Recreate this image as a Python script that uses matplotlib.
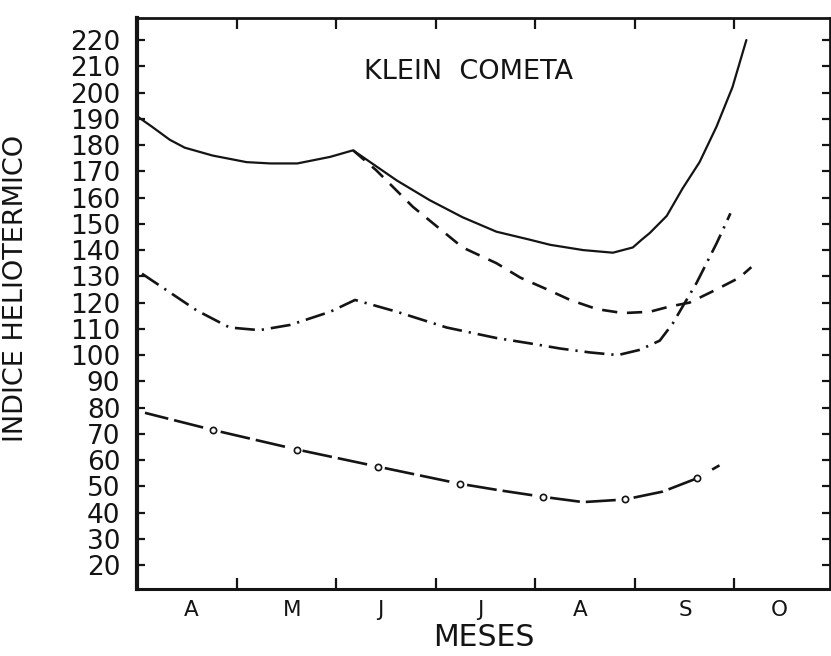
import matplotlib
matplotlib.use("Agg")
import matplotlib.pyplot as plt
from matplotlib.ticker import FixedLocator, NullFormatter

plt.rcParams['font.family'] = ['DejaVu Sans']
plt.rcParams['lines.scale_dashes'] = False

# months (x in month units from start of April), values of the heliothermic index
months = ['A', 'M', 'J', 'J', 'A', 'S', 'O']
yticks = [20, 30, 40, 50, 60, 70, 80, 90, 100, 110, 120, 130, 140, 150,
          160, 170, 180, 190, 200, 210, 220]

solid_x = [0.0, 0.15, 0.33, 0.48, 0.76, 1.10, 1.34, 1.61, 1.94, 2.17, 2.61, 2.94, 3.27, 3.61,
           3.94, 4.15, 4.48, 4.78, 4.98, 5.07, 5.15, 5.32, 5.48, 5.65, 5.82, 5.98, 6.12]
solid_y = [191, 187, 182, 179, 176, 173.5, 173, 173, 175.5, 178, 166.5, 159, 152.5, 147,
           144, 142, 140, 139, 141, 144, 146.5, 153, 163.5, 173.5, 187, 202, 220]

dashed_x = [2.17, 2.40, 2.77, 3.27, 3.61, 3.85, 4.12, 4.35, 4.62, 4.88, 5.15,
            5.35, 5.55, 5.82, 6.05, 6.17]
dashed_y = [178, 170.5, 156.5, 141, 135, 129.5, 125, 121, 117.5, 116, 116.5,
            118.5, 120, 125, 129.5, 133.5]

dashdot_x = [0.05, 0.60, 0.93, 1.23, 1.54, 1.94, 2.19, 2.61, 3.11, 3.61, 3.94, 4.25,
             4.55, 4.83, 5.05, 5.25, 5.38, 5.48, 5.62, 5.72, 5.82, 5.90, 5.96]
dashdot_y = [131, 117, 110.5, 109.5, 111.5, 116.5, 121, 116.5, 110.5, 106.5, 104.5, 102.5,
             101, 100, 102, 105.5, 112, 118.5, 127.5, 135, 142.5, 149, 154]

low_x = [0.08, 0.76, 1.61, 2.42, 3.24, 3.64, 4.08, 4.48, 4.90, 5.28, 5.62, 5.85]
low_y = [78, 71.5, 64, 57.5, 51, 48.5, 46, 44, 45, 48, 53, 58]
low_circles = [1, 2, 3, 4, 6, 8, 10]

ink = '#141414'

fig = plt.figure(figsize=(8.31, 6.56), dpi=100)
ax = fig.add_axes([137/831, 67/656, 693/831, 571/656])

ax.plot(solid_x, solid_y, color=ink, lw=1.6, solid_capstyle='round', solid_joinstyle='round')
ax.plot(dashed_x, dashed_y, color=ink, lw=1.9, linestyle=(0, (11, 7)))
ax.plot(dashdot_x, dashdot_y, color=ink, lw=1.9, linestyle=(0, (14.4, 5, 1.6, 5)))
ax.plot(low_x, low_y, color=ink, lw=1.9, linestyle=(4.3, (21.6, 4.3, 21.6, 13.0)),
        marker='o', markevery=low_circles, markersize=4.5,
        markerfacecolor='white', markeredgecolor=ink, markeredgewidth=1.2)

ax.set_xlim(0, 6.96)
ax.set_ylim(10.9, 228.4)

ax.xaxis.set_major_locator(FixedLocator([1, 2, 3, 4, 5, 6]))
ax.xaxis.set_major_formatter(NullFormatter())
ax.xaxis.set_minor_locator(FixedLocator([0.54, 1.56, 2.44, 3.45, 4.45, 5.51, 6.45]))
ax.set_xticklabels(months, minor=True)
ax.tick_params(axis='x', which='major', direction='in', length=8, width=1.6,
               top=True, bottom=True, color=ink)
ax.tick_params(axis='x', which='minor', length=0, pad=8, labelsize=15.5,
               labelcolor=ink)

ax.set_yticks(yticks)
ax.set_yticklabels([str(v) for v in yticks])
ax.tick_params(axis='y', direction='in', length=6, width=1.6, left=True, right=True,
               pad=12, labelsize=19, labelcolor=ink, color=ink)

for side, w in [('left', 3.0), ('bottom', 2.2), ('top', 2.0), ('right', 2.0)]:
    ax.spines[side].set_linewidth(w)
    ax.spines[side].set_color(ink)

ax.set_xlabel('MESES', fontsize=21.5, color=ink, labelpad=2)
ax.set_ylabel('INDICE HELIOTERMICO', fontsize=19.5, color=ink)
ax.yaxis.set_label_coords(-0.156, 0.527)

ax.text(0.478, 0.905, 'KLEIN  COMETA', transform=ax.transAxes, fontsize=19.5,
        color=ink, ha='center', va='center')

fig.savefig('out.png', dpi=100, facecolor='white')
